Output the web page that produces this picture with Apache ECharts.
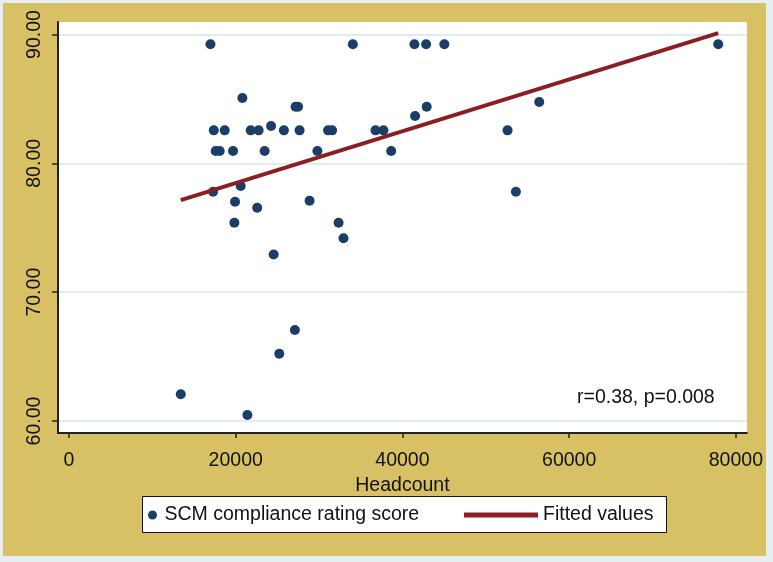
<!DOCTYPE html>
<html><head><meta charset="utf-8">
<script src="https://cdn.jsdelivr.net/npm/echarts@6/dist/echarts.min.js"></script>
<style>
html,body{margin:0;padding:0;background:#e8eff2;}
#wrap{position:relative;width:773px;height:562px;overflow:hidden;}
#c{position:absolute;left:3px;top:3px;width:763px;height:553px;}
</style>
</head><body><div id="wrap"><div id="c"></div></div>
<script>
// Headcount (x) and SCM compliance rating score (y)
const headcount = [
  16970, 34050, 41440, 42840, 45030, 77880,
  20800,
  27180, 27480, 42910,
  56410,
  41520,
  24240,
  17370, 18680, 21800, 22750, 25780, 27660, 31080, 31560, 36770, 37720, 52610,
  17600, 18080, 19680, 23470, 29800, 38650,
  20600,
  17290, 53610,
  28860,
  19920,
  22580,
  19840, 32340,
  32930,
  24550,
  27100,
  25230,
  13410,
  21400
];
const scmScore = [
  89.24, 89.24, 89.24, 89.24, 89.24, 89.24,
  85.07,
  84.39, 84.39, 84.39,
  84.76,
  83.67,
  82.9,
  82.56, 82.56, 82.56, 82.56, 82.56, 82.56, 82.56, 82.56, 82.56, 82.56, 82.56,
  80.96, 80.96, 80.96, 80.96, 80.96, 80.96,
  78.24,
  77.8, 77.8,
  77.1,
  77.02,
  76.55,
  75.39, 75.39,
  74.18,
  72.93,
  67.06,
  65.22,
  62.07,
  60.46
];
// Fitted line end points
const fitX = [13410, 77880];
const fitY = [77.15, 90.1];
// Axis ticks
const xTicks = [0, 20000, 40000, 60000, 80000];
const yTicks = [60, 70, 80, 90];
const seriesNames = ['SCM compliance rating score', 'Fitted values'];
const xTitle = 'Headcount';
const annotation = 'r=0.38, p=0.008';

const FONT = "'Liberation Sans', Arial, sans-serif";
const FS = 19.5;

const chart = echarts.init(document.getElementById('c'), null, {renderer: 'canvas'});
chart.setOption({
  animation: false,
  backgroundColor: '#D8C164',
  textStyle: {fontFamily: FONT},
  grid: {left: 55, top: 19, width: 690, height: 411, show: true, backgroundColor: '#ffffff', borderWidth: 0},
  xAxis: {
    type: 'value', min: -1317, max: 81317,
    name: xTitle, nameLocation: 'middle', nameGap: 26,
    nameTextStyle: {fontSize: FS, color: '#111', fontFamily: FONT},
    axisLine: {show: true, onZero: false, lineStyle: {color: '#222', width: 2}},
    axisTick: {show: true, customValues: xTicks, length: 5, lineStyle: {color: '#222', width: 1.5}},
    axisLabel: {customValues: xTicks, fontSize: FS, color: '#111', margin: 18, fontFamily: FONT,
      formatter: v => String(Math.round(v))},
    splitLine: {show: false}
  },
  yAxis: {
    type: 'value', min: 59.069, max: 90.97,
    axisLine: {show: true, onZero: false, lineStyle: {color: '#222', width: 2}},
    axisTick: {show: true, customValues: yTicks, length: 6, lineStyle: {color: '#222', width: 1.5}},
    axisLabel: {customValues: yTicks, rotate: 90, fontSize: FS, color: '#111', margin: 13, fontFamily: FONT,
      formatter: v => Number(v).toFixed(2)},
    splitLine: {show: true, lineStyle: {color: '#dfecf0', width: 2}}
  },
  legend: [
    {data: [seriesNames[0]], left: 145, top: 501, padding: 0, itemWidth: 14, itemHeight: 9,
     textStyle: {fontSize: FS, color: '#111', fontFamily: FONT, lineHeight: 22}},
    {data: [{name: seriesNames[1], icon: 'rect'}], left: 461, top: 501, padding: 0, itemWidth: 74, itemHeight: 5,
     itemStyle: {color: '#8C1E23'},
     textStyle: {fontSize: FS, color: '#111', fontFamily: FONT, lineHeight: 22}}
  ],
  graphic: [
    {type: 'rect', left: 139, top: 493, z: 1, shape: {width: 524, height: 36},
     style: {fill: '#ffffff', stroke: '#111', lineWidth: 1}},
    {type: 'text', left: 574, top: 385, z: 5,
     style: {text: annotation, fontSize: FS, fill: '#111', fontFamily: FONT}}
  ],
  series: [
    {name: seriesNames[0], type: 'scatter', symbol: 'circle', symbolSize: 10, z: 3,
     itemStyle: {color: '#1A3E68', opacity: 1},
     data: headcount.map((x, i) => [x, scmScore[i]])},
    {name: seriesNames[1], type: 'line', showSymbol: false, symbol: 'none', z: 4,
     lineStyle: {color: '#8C1E23', width: 4}, itemStyle: {color: '#8C1E23'},
     data: fitX.map((x, i) => [x, fitY[i]])}
  ]
});
</script>
</body></html>
